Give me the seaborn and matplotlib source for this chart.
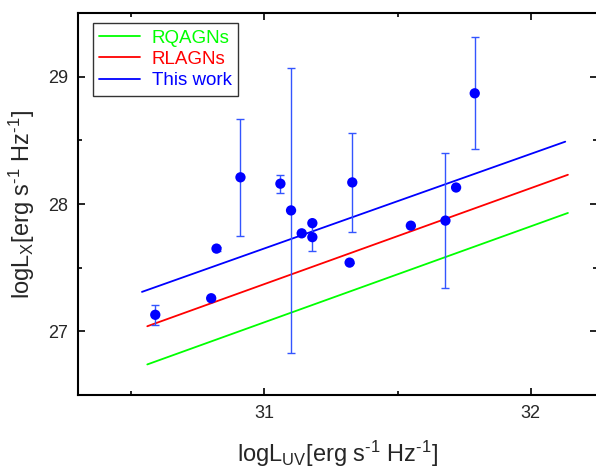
import numpy as np
import pandas as pd
import seaborn as sns
import matplotlib.pyplot as plt
from matplotlib.ticker import MultipleLocator

# data
log_luv = [30.59, 30.80, 30.82, 30.91, 31.06, 31.10, 31.14, 31.18, 31.18,
           31.33, 31.32, 31.55, 31.68, 31.72, 31.79]
log_lx = [27.13, 27.26, 27.65, 28.21, 28.16, 27.95, 27.77, 27.85, 27.74,
          28.17, 27.54, 27.83, 27.87, 28.13, 28.87]
lx_err = [0.08, 0.015, 0.015, 0.46, 0.07, 1.12, 0.0, 0.0, 0.107,
          0.39, 0.0, 0.0, 0.53, 0.0, 0.44]

# fitted relations (start / end points)
line_names = ['RQAGNs', 'RLAGNs', 'This work']
line_colors = ['#00ff00', '#ff0000', '#0000ff']
line_x = [[30.56, 32.14], [30.56, 32.14], [30.54, 32.13]]
line_y = [[26.74, 27.93], [27.04, 28.23], [27.31, 28.49]]

sns.set_style('ticks')
plt.rcParams['font.family'] = ['Liberation Sans', 'DejaVu Sans']
plt.rcParams['mathtext.fontset'] = 'custom'
plt.rcParams['mathtext.rm'] = 'Liberation Sans'
plt.rcParams['mathtext.it'] = 'Liberation Sans'

fig = plt.figure(figsize=(5.96, 4.68), dpi=100)
ax = fig.add_axes([0.131, 0.156, 0.871, 0.816])

lines = pd.DataFrame({
    'x': sum(line_x, []),
    'y': sum(line_y, []),
    'name': sum([[n, n] for n in line_names], []),
})
sns.lineplot(data=lines, x='x', y='y', hue='name', hue_order=line_names,
             palette=line_colors, linewidth=1.3, ax=ax, legend=True)

ax.errorbar(log_luv, log_lx, yerr=lx_err, fmt='none', ecolor='#3355ff',
            elinewidth=1.0, capsize=2.6, capthick=1.0, zorder=3)
sns.scatterplot(x=log_luv, y=log_lx, color='#0000ff', s=55, edgecolor='none',
                ax=ax, zorder=4)

ax.set_xlim(30.3, 32.25)
ax.set_ylim(26.5, 29.5)
ax.xaxis.set_major_locator(MultipleLocator(1))
ax.xaxis.set_minor_locator(MultipleLocator(0.5))
ax.yaxis.set_major_locator(MultipleLocator(1))
ax.yaxis.set_minor_locator(MultipleLocator(0.5))
ax.tick_params(which='both', direction='in', top=True, right=True,
               bottom=True, left=True, labelsize=13, pad=7, width=1.2,
               color='black')
ax.tick_params(which='major', length=5)
ax.tick_params(which='minor', length=3)
for sp in ax.spines.values():
    sp.set_visible(True)
    sp.set_linewidth(1.5)
    sp.set_color('black')

ax.set_xlabel('logL$_{\\mathrm{UV}}$[erg s$^{\\mathrm{\u2010}1}$ Hz$^{\\mathrm{\u2010}1}$]',
              fontsize=17, labelpad=12)
ax.set_ylabel('logL$_{\\mathrm{X}}$[erg s$^{\\mathrm{\u2010}1}$ Hz$^{\\mathrm{\u2010}1}$]',
              fontsize=17, labelpad=8)

leg = ax.legend(loc='upper left', bbox_to_anchor=(0.028, 0.974), borderaxespad=0,
                fontsize=13.5, handlelength=2.2, handletextpad=0.6,
                labelspacing=0.22, borderpad=0.35, fancybox=False,
                edgecolor='#333333', framealpha=1)
leg.get_frame().set_linewidth(1.0)
for txt, c in zip(leg.get_texts(), line_colors):
    txt.set_color(c)

fig.savefig('out.png', dpi=100)
